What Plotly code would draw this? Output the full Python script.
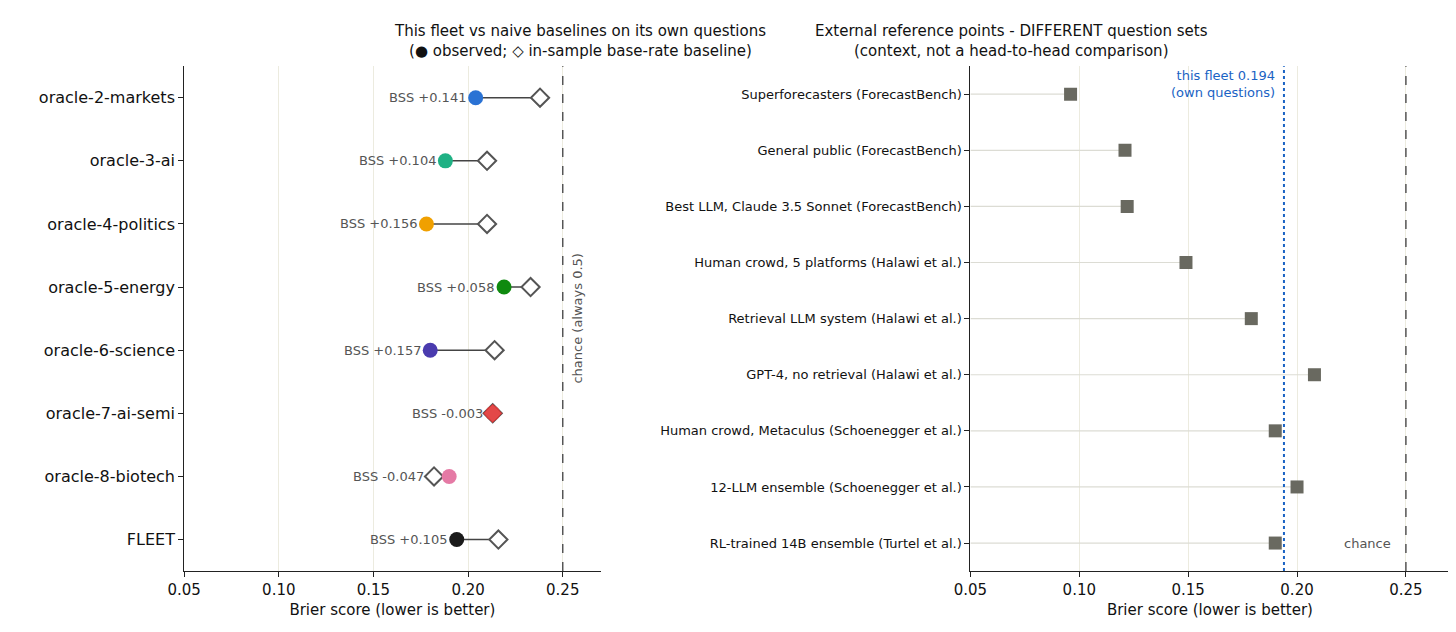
import plotly.graph_objects as go

# left panel: fleet oracles
oracles = ["oracle-2-markets", "oracle-3-ai", "oracle-4-politics", "oracle-5-energy",
           "oracle-6-science", "oracle-7-ai-semi", "oracle-8-biotech", "FLEET"]
observed = [0.204, 0.188, 0.178, 0.219, 0.180, 0.213, 0.190, 0.194]
baseline = [0.238, 0.210, 0.210, 0.233, 0.214, 0.213, 0.182, 0.216]
bss = ["+0.141", "+0.104", "+0.156", "+0.058", "+0.157", "-0.003", "-0.047", "+0.105"]
colors = ["#2a72d4", "#1fb184", "#f0a000", "#0f8a0f", "#4a3bae", "#e34848", "#e57aa5", "#1a1a1a"]

# right panel: external references
refs = ["Superforecasters (ForecastBench)", "General public (ForecastBench)",
        "Best LLM, Claude 3.5 Sonnet (ForecastBench)", "Human crowd, 5 platforms (Halawi et al.)",
        "Retrieval LLM system (Halawi et al.)", "GPT-4, no retrieval (Halawi et al.)",
        "Human crowd, Metaculus (Schoenegger et al.)", "12-LLM ensemble (Schoenegger et al.)",
        "RL-trained 14B ensemble (Turtel et al.)"]
ref_scores = [0.096, 0.121, 0.122, 0.149, 0.179, 0.208, 0.190, 0.200, 0.190]
fleet_score = 0.194
chance = 0.25

fig = go.Figure()

# connectors
for i, o in enumerate(oracles):
    fig.add_trace(go.Scatter(x=[observed[i], baseline[i]], y=[o, o], mode="lines",
                             line=dict(color="#444", width=1.5), showlegend=False,
                             xaxis="x", yaxis="y"))
fig.add_trace(go.Scatter(x=baseline, y=oracles, mode="markers", showlegend=False,
                         marker=dict(symbol="diamond", size=14, color="white",
                                     line=dict(color="#555", width=2)), xaxis="x", yaxis="y"))
fig.add_trace(go.Scatter(x=observed, y=oracles, mode="markers", showlegend=False,
                         marker=dict(size=15, color=colors, line=dict(width=0)), xaxis="x", yaxis="y"))
# red oracle-7 drawn as filled diamond on top
fig.add_trace(go.Scatter(x=[baseline[5]], y=[oracles[5]], mode="markers", showlegend=False,
                         marker=dict(symbol="diamond", size=14, color="#e34848",
                                     line=dict(color="#c33", width=1)), xaxis="x", yaxis="y"))
for i, o in enumerate(oracles):
    fig.add_annotation(x=min(observed[i], baseline[i]) - 0.004, y=o, xref="x", yref="y",
                       text="BSS " + bss[i], showarrow=False, xanchor="right",
                       font=dict(size=13, color="#555"))

# right panel stems
for r, s in zip(refs, ref_scores):
    fig.add_trace(go.Scatter(x=[0.05, s], y=[r, r], mode="lines", showlegend=False,
                             line=dict(color="#dcdcd4", width=1.2), xaxis="x2", yaxis="y2"))
fig.add_trace(go.Scatter(x=ref_scores, y=refs, mode="markers", showlegend=False,
                         marker=dict(symbol="square", size=13, color="#696960"),
                         xaxis="x2", yaxis="y2"))

axis_common = dict(range=[0.05, 0.27], tickvals=[0.05, 0.1, 0.15, 0.2, 0.25],
                   ticktext=["0.05", "0.10", "0.15", "0.20", "0.25"], automargin=False,
                   showgrid=True, gridcolor="#ecebdf", gridwidth=1.2, zeroline=False,
                   showline=True, linecolor="#222", ticks="outside", tickcolor="#222",
                   tickfont=dict(size=15, color="#111"),
                   title=dict(text="Brier score (lower is better)", font=dict(size=15, color="#111"), standoff=6))

fig.update_layout(
    width=1456, height=632, plot_bgcolor="white", paper_bgcolor="white",
    margin=dict(l=0, r=0, t=0, b=0), font=dict(family="DejaVu Sans"),
    xaxis=dict(domain=[0.121, 0.407], anchor="y", **axis_common),
    yaxis=dict(domain=[0.109, 0.908], anchor="x", categoryorder="array", automargin=False,
               categoryarray=oracles[::-1], range=[-0.5, 7.5], showline=True, linecolor="#222",
               ticks="outside", tickcolor="#222", tickfont=dict(size=16, color="#111"), showgrid=False),
    xaxis2=dict(domain=[0.661, 0.990], anchor="y2", **axis_common),
    yaxis2=dict(domain=[0.109, 0.908], anchor="x2", categoryorder="array", automargin=False,
                categoryarray=refs[::-1], range=[-0.5, 8.5], showline=True, linecolor="#222",
                ticks="outside", tickcolor="#222", tickfont=dict(size=13, color="#111"), showgrid=False),
)

fig.add_shape(type="line", xref="x", yref="y domain", x0=chance, x1=chance, y0=0, y1=1,
              line=dict(color="#555", width=1.5, dash="dash"))
fig.add_shape(type="line", xref="x2", yref="y2 domain", x0=chance, x1=chance, y0=0, y1=1,
              line=dict(color="#555", width=1.5, dash="dash"))
fig.add_shape(type="line", xref="x2", yref="y2 domain", x0=fleet_score, x1=fleet_score, y0=0, y1=1,
              line=dict(color="#1a63c4", width=2, dash="dot"))

fig.add_annotation(x=chance + 0.003, y=0.5, xref="x", yref="y domain", text="chance (always 0.5)",
                   textangle=-90, showarrow=False, xanchor="left", font=dict(size=13, color="#555"))
fig.add_annotation(x=chance - 0.006, y=0, xref="x2", yref="y2", text="chance", showarrow=False,
                   xanchor="right", font=dict(size=13, color="#555"))
fig.add_annotation(x=fleet_score - 0.003, y=1, xref="x2", yref="y2 domain",
                   text="this fleet 0.194<br>(own questions)", showarrow=False, xanchor="right",
                   yanchor="top", align="right", font=dict(size=13, color="#1a63c4"))

fig.add_annotation(x=0.264, y=0.915, xref="paper", yref="paper", showarrow=False, yanchor="bottom",
                   text="This fleet vs naive baselines on its own questions<br>(● observed; ◇ in-sample base-rate baseline)",
                   font=dict(size=15, color="#111"))
fig.add_annotation(x=0.8255, y=0.915, xref="paper", yref="paper", showarrow=False, yanchor="bottom",
                   text="External reference points - DIFFERENT question sets<br>(context, not a head-to-head comparison)",
                   font=dict(size=15, color="#111"))

fig.write_html("out.html")
